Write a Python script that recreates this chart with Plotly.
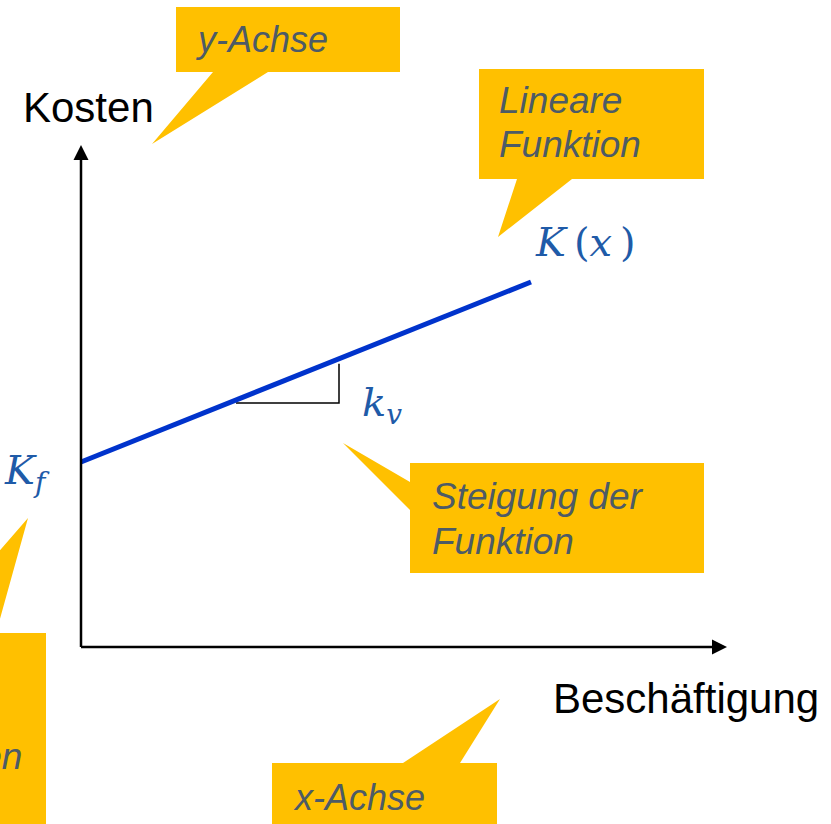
import numpy as np
import plotly.graph_objects as go

# cost function K(x) = Kf + kv * x  (schematic, 1 unit = 10 px)
kf = 18.5          # fixed costs (intercept)
kv = 0.4           # variable costs per unit (slope)
x_line = [0, 45]   # Beschaeftigung range of the drawn line
slope_x = [15.5, 25.8]   # where the slope triangle sits

# axis lengths
x_axis_max = 64.6
y_axis_max = 50.2

# text
y_label = 'Kosten'
x_label = 'Beschäftigung'
callout_texts = {
    'y': ['y-Achse'],
    'lin': ['Lineare', 'Funktion'],
    'slope': ['Steigung der', 'Funktion'],
    'x': ['x-Achse'],
    'fix': ['Fixkosten'],
}

YELLOW = '#FFC000'
GREY_TXT = '#4d5b66'
BLUE_LINE = '#0033cc'
BLUE_TXT = '#1f5ba8'


def px(xp, yp):
    # screen pixel -> data units (origin of the axes sits at 81/647)
    return (xp - 81) / 10.0, (647 - yp) / 10.0


def poly_path(points):
    pts = [px(a, b) for a, b in points]
    return 'M ' + ' L '.join(f'{a},{b}' for a, b in pts) + ' Z'


fig = go.Figure()

# callout bubbles (box + pointer)
bubbles = [
    [(176, 7), (400, 7), (400, 72), (268, 72), (152, 144), (213, 72), (176, 72)],
    [(479, 69), (704, 69), (704, 179), (572, 179), (498, 237), (517, 179), (479, 179)],
    [(410, 463), (704, 463), (704, 573), (410, 573), (410, 510), (343, 443), (410, 482)],
    [(272, 763), (403, 763), (500, 699), (460, 763), (497, 763), (497, 840), (272, 840)],
    [(-230, 633), (-72, 633), (28, 518), (-4, 633), (46, 633), (46, 840), (-230, 840)],
]
for b in bubbles:
    fig.add_shape(type='path', path=poly_path(b), xref='x', yref='y',
                  fillcolor=YELLOW, line=dict(width=0), layer='below')

# axes with arrow heads
fig.add_shape(type='line', x0=0, y0=0, x1=x_axis_max - 1.2, y1=0, line=dict(color='black', width=2.5))
fig.add_shape(type='line', x0=0, y0=0, x1=0, y1=y_axis_max - 1.2, line=dict(color='black', width=2.5))
ah_len, ah_w = 1.5, 0.75
fig.add_shape(type='path', fillcolor='black', line=dict(width=0),
              path=f'M {x_axis_max},0 L {x_axis_max - ah_len},{ah_w} L {x_axis_max - ah_len},{-ah_w} Z')
fig.add_shape(type='path', fillcolor='black', line=dict(width=0),
              path=f'M 0,{y_axis_max} L {ah_w},{y_axis_max - ah_len} L {-ah_w},{y_axis_max - ah_len} Z')

# slope triangle under the line
x0, x1 = slope_x
y_lo = kf + kv * x0 - 0.3
fig.add_trace(go.Scatter(x=[x0, x1, x1], y=[y_lo, y_lo, kf + kv * x1 - 0.5],
                         mode='lines', line=dict(color='black', width=1.5),
                         hoverinfo='skip', showlegend=False))

# the cost line
xs = np.array(x_line)
fig.add_trace(go.Scatter(x=xs, y=kf + kv * xs, mode='lines',
                         line=dict(color=BLUE_LINE, width=5),
                         hoverinfo='skip', showlegend=False))


def label(text, xp, yp, size, color, anchor='left', italic=False, family='Liberation Sans, Arial'):
    xd, yd = px(xp, yp)
    if italic:
        text = f'<i>{text}</i>'
    fig.add_annotation(x=xd, y=yd, text=text, showarrow=False, xanchor=anchor, yanchor='middle',
                       font=dict(size=size, color=color, family=family))


# axis labels
label(y_label, 21, 107, 42, 'black')
label(x_label, 551, 698, 42, 'black')

# callout texts
label(callout_texts['y'][0], 193, 39, 36, GREY_TXT, italic=True)
for i, t in enumerate(callout_texts['lin']):
    label(t, 497, 100 + 44 * i, 37, GREY_TXT, italic=True)
for i, t in enumerate(callout_texts['slope']):
    label(t, 430, 496 + 45 * i, 37, GREY_TXT, italic=True)
label(callout_texts['x'][0], 291, 797, 36, GREY_TXT, italic=True)
label(callout_texts['fix'][0], 24, 756, 37, GREY_TXT, anchor='right', italic=True)

# math labels
serif = 'DejaVu Serif, Liberation Serif, serif'
label('<i>K</i>\u2009(<i>x</i>\u2009)', 533, 242, 40, BLUE_TXT, family=serif)
label('<i>k</i><sub><i>v</i></sub>', 360, 405, 40, BLUE_TXT, family=serif)
label('<i>K</i><sub><i>f</i></sub>', 2, 473, 40, BLUE_TXT, family=serif)

xl = px(0, 0)[0], px(831, 0)[0]
yl = px(0, 824)[1], px(0, 0)[1]
fig.update_xaxes(range=list(xl), visible=False, fixedrange=True)
fig.update_yaxes(range=list(yl), visible=False, fixedrange=True)
fig.update_layout(width=831, height=824, margin=dict(l=0, r=0, t=0, b=0),
                  plot_bgcolor='white', paper_bgcolor='white', showlegend=False)

fig.write_html("out.html", config={'displayModeBar': False},
               post_script="document.body.style.margin='0';")
